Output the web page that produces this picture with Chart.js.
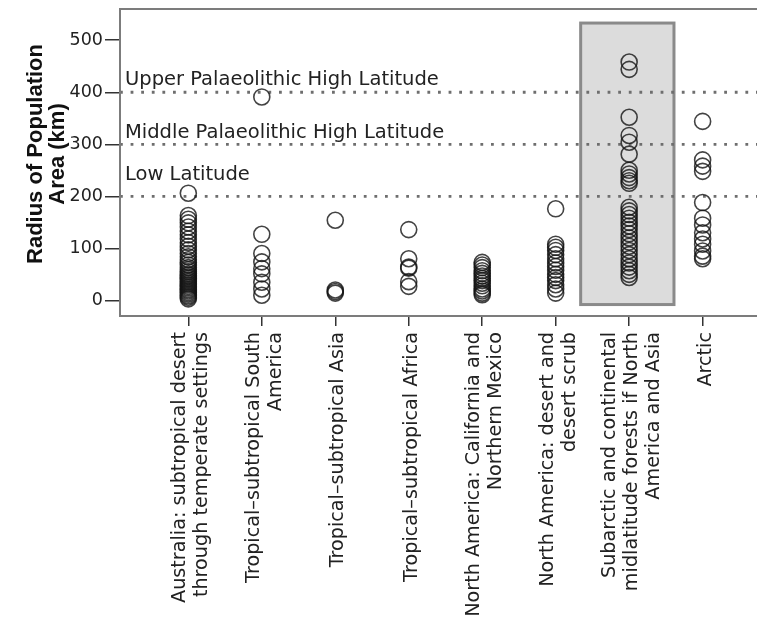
<!DOCTYPE html>
<html>
<head>
<meta charset="utf-8">
<script src="https://cdn.jsdelivr.net/npm/chart.js@4.4.1/dist/chart.umd.min.js"></script>
<style>
  html, body { margin: 0; padding: 0; background: #fff; }
  #wrap { width: 757px; height: 623px; }
</style>
</head>
<body>
<div id="wrap"><canvas id="c" width="757" height="623"></canvas></div>
<script>
// Environment categories (x axis), each label may span several lines
const categories = [
  ['Australia: subtropical desert', 'through temperate settings'],
  ['Tropical\u2013subtropical South', 'America'],
  'Tropical\u2013subtropical Asia',
  'Tropical\u2013subtropical Africa',
  ['North America: California and', 'Northern Mexico'],
  ['North America: desert and', 'desert scrub'],
  ['Subarctic and continental', 'midlatitude forests if North', 'America and Asia'],
  'Arctic'
];

// Radius of population area (km) per group
const australia = [206, 163, 156, 149, 141, 133, 126, 118, 111, 104, 97, 90, 84, 78, 73, 68, 63, 59, 55, 51, 48, 45, 42, 39, 36, 33, 30, 27, 24, 21, 18, 15, 12, 9, 6, 3];
const southAmerica = [391, 127, 90, 74, 61, 51, 35, 22, 10];
const asia = [154, 20, 17, 14];
const africa = [136, 80, 64, 62, 36, 27];
const california = [73, 68, 63, 57, 52, 47, 42, 38, 33, 28, 22, 18, 14, 11];
const desertScrub = [176, 108, 102, 96, 88, 80, 72, 65, 58, 50, 44, 38, 30, 22, 14];
const subarctic = [458, 444, 352, 317, 304, 281, 250, 243, 236, 230, 225, 179, 172, 165, 158, 150, 143, 136, 128, 120, 112, 104, 96, 88, 80, 72, 64, 57, 50, 44];
const arctic = [344, 270, 258, 248, 188, 158, 145, 130, 118, 108, 95, 85, 80];

const groups = [australia, southAmerica, asia, africa, california, desertScrub, subarctic, arctic];

// Axis ticks and reference levels
const yTicks = [0, 100, 200, 300, 400, 500];
const refLevels = [400, 300, 200];
const refLabels = ['Upper Palaeolithic High Latitude', 'Middle Palaeolithic High Latitude', 'Low Latitude'];

const X_MIN = -0.93, X_MAX = 7.74;
const Y_MIN = -30, Y_MAX = 560;

const FONT = '"DejaVu Sans", "Noto Sans", sans-serif';

const pointData = [];
groups.forEach((vals, i) => vals.forEach(v => pointData.push({ x: i, y: v })));

const datasets = [{
  label: 'Radius',
  data: pointData,
  pointStyle: 'circle',
  pointRadius: 8,
  pointHoverRadius: 8,
  backgroundColor: 'rgba(0,0,0,0)',
  borderColor: 'rgba(20,20,20,0.8)',
  borderWidth: 1.6,
  order: 1
}];
refLevels.forEach((lv, k) => {
  datasets.push({
    label: refLabels[k],
    data: [{ x: X_MIN, y: lv }, { x: X_MAX, y: lv }],
    showLine: true,
    pointRadius: 0,
    borderColor: '#6e6e6e',
    borderWidth: 2.8,
    borderDash: [2.8, 7.8],
    borderCapStyle: 'butt',
    order: 2
  });
});

// Shaded frame around the subarctic group
const highlight = { x0: 5.34, x1: 6.61, y0: -8, y1: 533 };

const decor = {
  id: 'decor',
  beforeDatasetsDraw(chart) {
    const { ctx, scales: { x, y } } = chart;
    const l = x.getPixelForValue(highlight.x0), r = x.getPixelForValue(highlight.x1);
    const t = y.getPixelForValue(highlight.y1), b = y.getPixelForValue(highlight.y0);
    ctx.save();
    ctx.fillStyle = '#dcdcdc';
    ctx.fillRect(l, t, r - l, b - t);
    ctx.strokeStyle = '#8a8a8a';
    ctx.lineWidth = 3;
    ctx.strokeRect(l, t, r - l, b - t);
    ctx.restore();
  },
  afterDatasetsDraw(chart) {
    const { ctx, chartArea: a, scales: { y } } = chart;
    ctx.save();
    ctx.fillStyle = '#222';
    ctx.font = '19.5px ' + FONT;
    ctx.textBaseline = 'alphabetic';
    ctx.textAlign = 'left';
    const lift = [7, 6, 16];
    refLevels.forEach((lv, k) => {
      ctx.fillText(refLabels[k], a.left + 5, y.getPixelForValue(lv) - lift[k]);
    });
    ctx.restore();
  },
  afterDraw(chart) {
    const { ctx, chartArea: a } = chart;
    ctx.save();
    // plot frame (open on the right)
    ctx.strokeStyle = '#7c7c7c';
    ctx.lineWidth = 2;
    ctx.beginPath();
    ctx.moveTo(a.right + 2, a.top);
    ctx.lineTo(a.left, a.top);
    ctx.lineTo(a.left, a.bottom);
    ctx.lineTo(a.right + 2, a.bottom);
    ctx.stroke();
    // y axis title
    ctx.fillStyle = '#111';
    ctx.font = 'bold 22px "Liberation Sans", Arial, sans-serif';
    ctx.textAlign = 'center';
    ctx.textBaseline = 'middle';
    ctx.translate(0, 154);
    ctx.rotate(-Math.PI / 2);
    ctx.fillText('Radius of Population', 0, 36);
    ctx.fillText('Area (km)', 0, 58);
    ctx.restore();
  }
};

// Center multi-line rotated category labels on their ticks
const centerLabels = {
  id: 'centerLabels',
  beforeDraw(chart) {
    const xs = chart.scales.x;
    const items = xs.getLabelItems(chart.chartArea);
    const lh = xs.options.ticks.font.size * xs.options.ticks.font.lineHeight;
    items.forEach(it => {
      if (it._centered) return;
      const n = Array.isArray(it.label) ? it.label.length : 1;
      it.options.translation[0] += 3 - (n - 1) * lh / 2;
      it._centered = true;
    });
  }
};

new Chart(document.getElementById('c'), {
  type: 'scatter',
  data: { datasets },
  options: {
    responsive: false,
    devicePixelRatio: 1,
    animation: false,
    layout: { autoPadding: false, padding: { top: 9, left: 0, right: 0, bottom: 0 } },
    plugins: { legend: { display: false }, tooltip: { enabled: false } },
    scales: {
      x: {
        type: 'linear',
        min: X_MIN,
        max: X_MAX,
        afterBuildTicks(s) { s.ticks = categories.map((c, i) => ({ value: i })); },
        afterFit(s) { s.height = 307; s.paddingLeft = 0; s.paddingRight = 0; },
        ticks: {
          autoSkip: false,
          minRotation: 90,
          maxRotation: 90,
          padding: 6,
          color: '#222',
          font: { family: FONT, size: 19.2, lineHeight: 1.16 },
          callback: v => categories[v]
        },
        grid: { drawOnChartArea: false, drawTicks: true, tickLength: 10, color: '#333', lineWidth: 1.5 },
        border: { display: false }
      },
      y: {
        type: 'linear',
        min: Y_MIN,
        max: Y_MAX,
        afterBuildTicks(s) { s.ticks = yTicks.map(v => ({ value: v })); },
        afterFit(s) { s.width = 120; s.paddingTop = 0; s.paddingBottom = 0; },
        ticks: { padding: 2, color: '#222', font: { family: FONT, size: 17.5 } },
        grid: { drawOnChartArea: false, drawTicks: true, tickLength: 15, color: '#333', lineWidth: 1.5 },
        border: { display: false }
      }
    }
  },
  plugins: [decor, centerLabels]
});
</script>
</body>
</html>
